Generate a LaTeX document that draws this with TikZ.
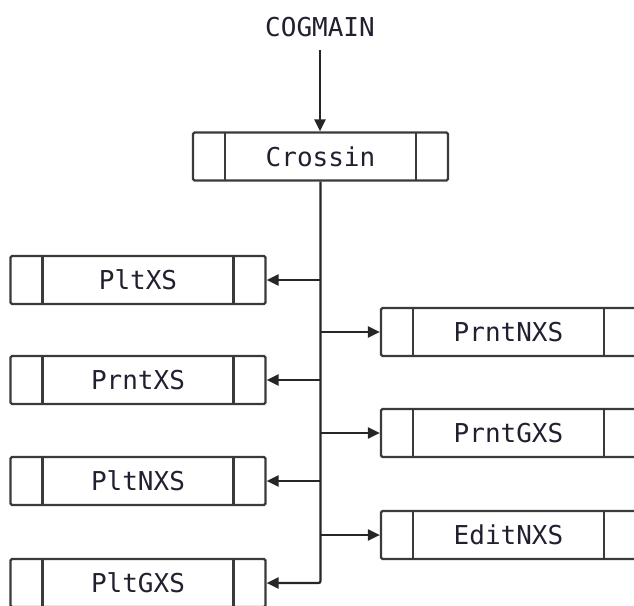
\documentclass[tikz,border=0pt]{standalone}
\usepackage{fontspec}
\newfontfamily\boxfont{DejaVu Sans Mono}
\usetikzlibrary{arrows.meta}
\definecolor{edge}{HTML}{3A3A3A}
\definecolor{txt}{HTML}{202030}
\tikzset{
  modbox/.style={draw=edge, line width=2.2pt, rounded corners=1.5pt,
    minimum width=255pt, minimum height=48pt, inner sep=0pt,
    font=\boxfont\fontsize{26}{30}\selectfont, text=txt,
    path picture={
      \draw[edge, line width=2.2pt]
        ([xshift=32pt]path picture bounding box.north west) -- ([xshift=32pt]path picture bounding box.south west)
        ([xshift=-32pt]path picture bounding box.north east) -- ([xshift=-32pt]path picture bounding box.south east);
    }},
  lbl/.style={font=\boxfont\fontsize{26}{30}\selectfont, text=txt, inner sep=0pt},
  conn/.style={draw=black!85, line width=2.2pt, -{Triangle[length=12pt,width=11pt]}},
}
\begin{document}
\begin{tikzpicture}[x=1pt,y=1pt]
\useasboundingbox (0,0) rectangle (634,-605);
\node[lbl] (cogmain) at (320,-27) {COGMAIN};
\node[modbox] (crossin) at (320.5,-156.5) {Crossin};
\node[modbox] (pltxs) at (138,-280) {PltXS};
\node[modbox] (prntxs) at (138,-380) {PrntXS};
\node[modbox] (pltnxs) at (138,-481) {PltNXS};
\node[modbox] (pltgxs) at (138,-583) {PltGXS};
\node[modbox] (prntnxs) at (508.5,-332) {PrntNXS};
\node[modbox] (prntgxs) at (508.5,-433) {PrntGXS};
\node[modbox] (editnxs) at (508.5,-535) {EditNXS};
\coordinate (top) at (320,-50);
\draw[conn] (top) -- (crossin.north -| top);
\draw[conn, rounded corners=2pt] (crossin.south) |- (pltgxs.east);
\draw[conn] (crossin.south |- pltxs.east) -- (pltxs.east);
\draw[conn] (crossin.south |- prntxs.east) -- (prntxs.east);
\draw[conn] (crossin.south |- pltnxs.east) -- (pltnxs.east);
\draw[conn] (crossin.south |- prntnxs.west) -- (prntnxs.west);
\draw[conn] (crossin.south |- prntgxs.west) -- (prntgxs.west);
\draw[conn] (crossin.south |- editnxs.west) -- (editnxs.west);
\end{tikzpicture}
\end{document}
